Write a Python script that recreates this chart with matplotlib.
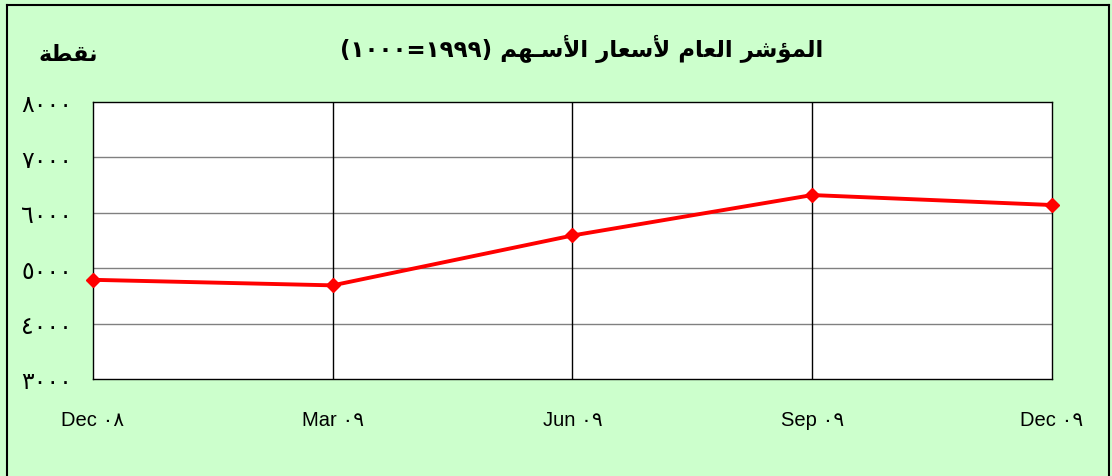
import matplotlib
matplotlib.use("Agg")
import matplotlib.pyplot as plt
from matplotlib.lines import Line2D

# data
quarters = ["Dec", "Mar", "Jun", "Sep", "Dec"]
years = ["٠٨", "٠٩", "٠٩", "٠٩", "٠٩"]
index_values = [4790, 4690, 5590, 6320, 6140]
y_ticks = [3000, 4000, 5000, 6000, 7000, 8000]

# arabic presentation forms: isolated, final, initial, medial
FORMS = {
    "ا": ("\uFE8D", "\uFE8E", None, None),
    "أ": ("\uFE83", "\uFE84", None, None),
    "ؤ": ("\uFE85", "\uFE86", None, None),
    "ر": ("\uFEAD", "\uFEAE", None, None),
    "ة": ("\uFE93", "\uFE94", None, None),
    "ل": ("\uFEDD", "\uFEDE", "\uFEDF", "\uFEE0"),
    "م": ("\uFEE1", "\uFEE2", "\uFEE3", "\uFEE4"),
    "ش": ("\uFEB5", "\uFEB6", "\uFEB7", "\uFEB8"),
    "ع": ("\uFEC9", "\uFECA", "\uFECB", "\uFECC"),
    "س": ("\uFEB1", "\uFEB2", "\uFEB3", "\uFEB4"),
    "ه": ("\uFEE9", "\uFEEA", "\uFEEB", "\uFEEC"),
    "ن": ("\uFEE5", "\uFEE6", "\uFEE7", "\uFEE8"),
    "ق": ("\uFED5", "\uFED6", "\uFED7", "\uFED8"),
    "ط": ("\uFEC1", "\uFEC2", "\uFEC3", "\uFEC4"),
    "ـ": ("ـ", "ـ", "ـ", "ـ"),
}
LAM_ALEF = {"ا": ("\uFEFB", "\uFEFC"), "أ": ("\uFEF7", "\uFEF8")}


def dual(c):
    return c in FORMS and FORMS[c][2] is not None


def ar(text):
    # shape arabic letters and return them in visual (left to right) order
    out = []
    i = 0
    while i < len(text):
        c = text[i]
        prev = text[i - 1] if i > 0 else " "
        joins_prev = dual(prev)
        if c == "ل" and i + 1 < len(text) and text[i + 1] in LAM_ALEF:
            out.append(LAM_ALEF[text[i + 1]][1 if joins_prev else 0])
            i += 2
            continue
        if c not in FORMS:
            out.append(c)
            i += 1
            continue
        nxt = text[i + 1] if i + 1 < len(text) else " "
        joins_next = dual(c) and nxt in FORMS
        iso, fin, ini, med = FORMS[c]
        if joins_prev and joins_next:
            out.append(med)
        elif joins_prev:
            out.append(fin)
        elif joins_next:
            out.append(ini)
        else:
            out.append(iso)
        i += 1
    return "".join(reversed(out))


plt.rcParams["font.family"] = ["Liberation Sans", "DejaVu Sans"]

fig = plt.figure(figsize=(11.12, 4.77), dpi=100)
fig.patch.set_facecolor("#CCFFCC")
ax = fig.add_axes([0.0836, 0.2034, 0.8624, 0.5807])
ax.set_facecolor("white")

x = list(range(len(index_values)))
ax.plot(x, index_values, color="#FF0000", linewidth=2.8, marker="D",
        markersize=7.5, markerfacecolor="#FF0000", markeredgecolor="#FF0000",
        zorder=5, clip_on=False)

ax.set_xlim(0, len(index_values) - 1)
ax.set_ylim(3000, 8000)
ax.set_yticks(y_ticks)
ax.set_xticks(x)

digits = str.maketrans("0123456789", "٠١٢٣٤٥٦٧٨٩")
ax.set_yticklabels([str(v).translate(digits) for v in y_ticks],
                   family=["DejaVu Sans"], fontsize=17)
ax.set_xticklabels([q + " " + y for q, y in zip(quarters, years)], fontsize=14.5)
ax.tick_params(axis="both", length=0)
ax.tick_params(axis="y", pad=15)
ax.tick_params(axis="x", pad=22)

for yv in y_ticks[1:-1]:
    ax.axhline(yv, color="#808080", linewidth=1, zorder=1)
for xv in x[1:-1]:
    ax.axvline(xv, color="black", linewidth=1, zorder=1)
for s in ax.spines.values():
    s.set_color("black")
    s.set_linewidth(1)

fig.text(0.523, 0.898, "(١٠٠٠=١٩٩٩) " + ar("المؤشر العام لأسعار الأسـهم"),
         ha="center", va="center", fontsize=16.5, fontweight="bold",
         family=["DejaVu Sans"])
fig.text(0.061, 0.885, ar("نقطة"), ha="center", va="center", fontsize=16,
         fontweight="bold", family=["DejaVu Sans"])

# outer frame (bottom edge is cut off in the original)
for xs, ys in [([0.0065, 0.0065], [0, 0.988]), ([0.0065, 0.997], [0.988, 0.988]),
               ([0.997, 0.997], [0.988, 0])]:
    fig.add_artist(Line2D(xs, ys, color="black", linewidth=1.5))

fig.savefig("out.png", dpi=100, facecolor=fig.get_facecolor())
